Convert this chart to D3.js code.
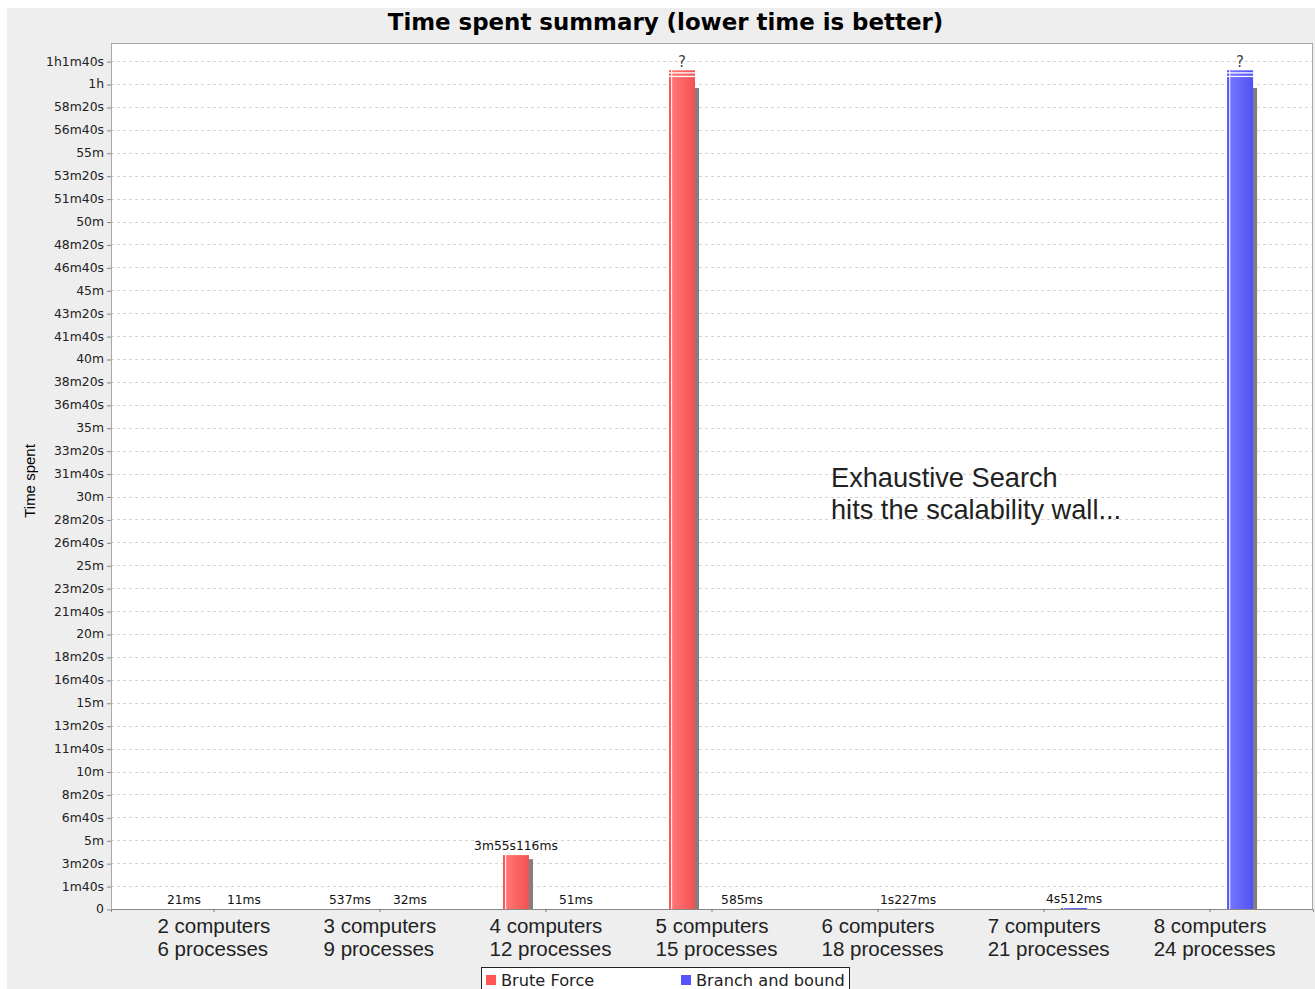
<!DOCTYPE html>
<html>
<head>
<meta charset="utf-8">
<script src="https://cdn.jsdelivr.net/npm/d3@7"></script>
<style>
  html, body { margin: 0; padding: 0; background: #ffffff; }
  svg { display: block; }
</style>
</head>
<body>
<svg id="chart" width="1315" height="989"></svg>
<script>
// ---- data -------------------------------------------------------------
const categories = ["2 computers", "3 computers", "4 computers", "5 computers",
                    "6 computers", "7 computers", "8 computers"];
const processLabels = ["6 processes", "9 processes", "12 processes", "15 processes",
                       "18 processes", "21 processes", "24 processes"];
const seriesNames = ["Brute Force", "Branch and bound"];
// run times in milliseconds; "timeout" = run stopped at the time limit, null = not run
const bruteForceMs = [21, 537, 235116, "timeout", null, null, null];
const branchBoundMs = [11, 32, 51, 585, 1227, 4512, "timeout"];
const timeLimitMs = 3600000;        // 1h limit
const overflowDrawMs = 3660000;     // how far a timed-out bar is drawn
const yTicksMs = d3.range(0, 3700001, 100000);
const yMaxMs = 3779000;
const seriesColors = ["#ff5555", "#5555ff"];
const annotationLines = ["Exhaustive Search", "hits the scalability wall..."];
const annotationAt = { category: "6 computers", ms: 1840000 };

// ---- layout -----------------------------------------------------------
const W = 1315, H = 989;
const plot = { left: 111, right: 1313, top: 43, bottom: 909 };
const svg = d3.select("#chart");

// duration text such as 3m55s116ms, 1h1m40s
function fmtDuration(ms) {
  if (ms === 0) return "0";
  const h = Math.floor(ms / 3600000);
  const m = Math.floor((ms % 3600000) / 60000);
  const s = Math.floor((ms % 60000) / 1000);
  const r = Math.round(ms % 1000);
  let out = "";
  if (h) out += h + "h";
  if (m) out += m + "m";
  if (s) out += s + "s";
  if (r) out += r + "ms";
  return out;
}

// panel background
svg.append("rect").attr("x", 7).attr("y", 8).attr("width", W).attr("height", H)
  .attr("fill", "#eeeeee");

// title
svg.append("text")
  .attr("x", 665.5).attr("y", 30)
  .attr("text-anchor", "middle")
  .style("font-family", "DejaVu Sans")
  .style("font-weight", "bold")
  .style("font-size", "22.9px")
  .attr("fill", "#000")
  .text("Time spent summary (lower time is better)");

// plot background
svg.append("rect")
  .attr("x", plot.left).attr("y", plot.top)
  .attr("width", plot.right - plot.left).attr("height", plot.bottom - plot.top)
  .attr("fill", "#ffffff");

// scales
const x0 = d3.scaleBand().domain(categories)
  .range([plot.left, plot.right]).paddingInner(0).paddingOuter(0.12);
const x1 = d3.scaleBand().domain(seriesNames)
  .range([0, x0.bandwidth()]).paddingInner(0.5667).paddingOuter(0.6667);
const y = d3.scaleLinear().domain([0, yMaxMs]).range([plot.bottom, plot.top]);

// gridlines
svg.append("g").selectAll("line").data(yTicksMs.filter(d => d > 0)).join("line")
  .attr("x1", plot.left).attr("x2", plot.right)
  .attr("y1", d => Math.round(y(d)) + 0.5).attr("y2", d => Math.round(y(d)) + 0.5)
  .attr("stroke", "#d4d4d4").attr("stroke-width", 1)
  .attr("stroke-dasharray", "3,3");

// y axis
const yAxis = d3.axisLeft(y).tickValues(yTicksMs).tickFormat(fmtDuration)
  .tickSize(4).tickPadding(3);
const yg = svg.append("g").attr("transform", `translate(${plot.left},0)`).call(yAxis);
yg.select(".domain").remove();
yg.selectAll(".tick line").attr("stroke", "#888").attr("transform", "translate(0,0.5)");
yg.selectAll(".tick text")
  .style("font-family", "DejaVu Sans").style("font-size", "12.4px")
  .attr("fill", "#222");

// y axis title
svg.append("text")
  .attr("transform", `translate(35,${(plot.top + plot.bottom) / 2 + 5}) rotate(-90)`)
  .attr("text-anchor", "middle")
  .style("font-family", "Liberation Sans").style("font-size", "15px")
  .attr("fill", "#000")
  .text("Time spent");

// bars
const defs = svg.append("defs");
seriesColors.forEach((c, i) => {
  const base = d3.color(c);
  const g = defs.append("linearGradient").attr("id", "grad" + i)
    .attr("x1", "0").attr("x2", "1").attr("y1", "0").attr("y2", "0");
  g.append("stop").attr("offset", "0%").attr("stop-color", base.formatHex());
  g.append("stop").attr("offset", "12%").attr("stop-color", base.formatHex());
  g.append("stop").attr("offset", "16%").attr("stop-color", d3.interpolateRgb(base, "#fff")(0.18));
  g.append("stop").attr("offset", "100%").attr("stop-color", base.darker(0.12).formatHex());
});
defs.append("clipPath").attr("id", "plotClip").append("rect")
  .attr("x", plot.left).attr("y", plot.top)
  .attr("width", plot.right - plot.left).attr("height", plot.bottom - plot.top);

const barData = [];
[bruteForceMs, branchBoundMs].forEach((arr, si) => {
  arr.forEach((v, ci) => {
    if (v === null) return;
    const timeout = v === "timeout";
    barData.push({
      series: seriesNames[si], si, category: categories[ci],
      value: timeout ? timeLimitMs : v,
      drawTo: timeout ? overflowDrawMs : v,
      timeout,
      label: timeout ? "?" : fmtDuration(v)
    });
  });
});

const bw = x1.bandwidth();
const bars = svg.append("g").attr("clip-path", "url(#plotClip)");
// shadows
bars.selectAll("rect.shadow").data(barData).join("rect").attr("class", "shadow")
  .attr("x", d => x0(d.category) + x1(d.series) + 4)
  .attr("y", d => y(d.value) + 4)
  .attr("width", bw)
  .attr("height", d => y(0) - y(d.value))
  .attr("fill", "#808080");
// bodies
bars.selectAll("rect.bar").data(barData).join("rect").attr("class", "bar")
  .attr("x", d => x0(d.category) + x1(d.series))
  .attr("y", d => y(d.drawTo))
  .attr("width", bw)
  .attr("height", d => y(0) - y(d.drawTo))
  .attr("fill", d => `url(#grad${d.si})`);
// highlight stripe near the left edge
bars.selectAll("rect.hl").data(barData).join("rect").attr("class", "hl")
  .attr("x", d => x0(d.category) + x1(d.series) + 2)
  .attr("y", d => y(d.drawTo))
  .attr("width", 1.3)
  .attr("height", d => y(0) - y(d.drawTo))
  .attr("fill", "#ffffff").attr("opacity", 0.9);
// break marks on bars that ran past the limit
const over = barData.filter(d => d.timeout);
[2, 5.5].forEach(off => {
  bars.append("g").selectAll("rect").data(over).join("rect")
    .attr("x", d => x0(d.category) + x1(d.series))
    .attr("y", d => y(d.drawTo) + off)
    .attr("width", bw).attr("height", 1.3)
    .attr("fill", "#ffffff");
});

// value labels
svg.append("g").selectAll("text").data(barData).join("text")
  .attr("x", d => x0(d.category) + x1(d.series) + bw / 2)
  .attr("y", d => y(d.drawTo) - (d.timeout ? 3 : 5))
  .attr("text-anchor", "middle")
  .style("font-family", "DejaVu Sans")
  .style("font-size", d => d.timeout ? "15px" : "12.3px")
  .attr("fill", d => d.timeout ? "#444" : "#111")
  .text(d => d.label);

// plot border
svg.append("rect")
  .attr("x", plot.left + 0.5).attr("y", plot.top + 0.5)
  .attr("width", plot.right - plot.left - 1).attr("height", plot.bottom - plot.top)
  .attr("fill", "none").attr("stroke", "#a8a8a8");

// x axis
const xAxis = d3.axisBottom(x0).tickSize(3).tickFormat("");
const xg = svg.append("g").attr("transform", `translate(0,${plot.bottom})`).call(xAxis);
xg.select(".domain").attr("stroke", "#888");
xg.selectAll(".tick line").attr("stroke", "#777");

// two-line category labels: first line centred on the tick, second line
// starting at the same left edge
const catG = svg.append("g");
categories.forEach((c, i) => {
  const cx = x0(c) + x0.bandwidth() / 2;
  const t = catG.append("text")
    .style("font-family", "Liberation Sans").style("font-size", "20.5px")
    .attr("fill", "#222");
  const first = t.append("tspan").attr("y", 933).text(c);
  const w = first.node().getComputedTextLength();
  const left = cx - w / 2;
  first.attr("x", left);
  t.append("tspan").attr("x", left).attr("y", 956).text(processLabels[i]);
});

// annotation
const ann = svg.append("text")
  .style("font-family", "Liberation Sans").style("font-size", "27.2px")
  .attr("fill", "#222");
annotationLines.forEach((t, i) => {
  ann.append("tspan")
    .attr("x", x0(annotationAt.category) + 36)
    .attr("y", y(annotationAt.ms) + i * 32)
    .text(t);
});

// legend
const legend = svg.append("g");
legend.append("rect").attr("x", 481.5).attr("y", 967.5).attr("width", 368).attr("height", 30)
  .attr("fill", "#ffffff").attr("stroke", "#222");
const legendX = [486, 681];
seriesNames.forEach((n, i) => {
  legend.append("rect").attr("x", legendX[i]).attr("y", 975).attr("width", 10).attr("height", 10)
    .attr("fill", seriesColors[i]);
  legend.append("text").attr("x", legendX[i] + 15).attr("y", 986)
    .style("font-family", "DejaVu Sans").style("font-size", "16.2px")
    .attr("fill", "#222").text(n);
});
</script>
</body>
</html>
